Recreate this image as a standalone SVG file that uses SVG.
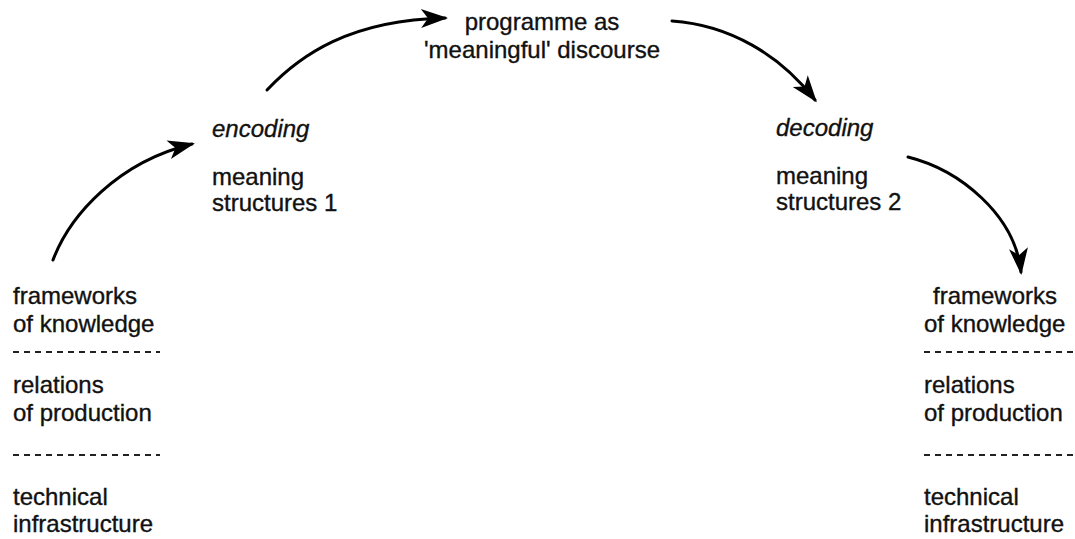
<svg xmlns="http://www.w3.org/2000/svg" width="1075" height="539" viewBox="0 0 1075 539">
<style>
text{font-family:"Liberation Sans",Arial,sans-serif;font-size:24px;fill:#111;stroke:#111;stroke-width:0.35}
.it{font-style:italic}
.arc{fill:none;stroke:#000;stroke-width:3;stroke-linecap:round}
.dash{stroke:#222;stroke-width:2;stroke-dasharray:6 5}
</style>
<defs>
<marker id="ah" markerUnits="userSpaceOnUse" markerWidth="32" markerHeight="24" viewBox="-28 -12 32 24" refX="0" refY="0" orient="auto">
<path d="M3,0 L-24,-9.5 L-17,0 L-24,9.5 Z" fill="#000"/>
</marker>
</defs>
<rect width="1075" height="539" fill="#fff"/>
<g id="connectors">
<path class="arc" d="M53,260 C70,215 118,162 192,144" marker-end="url(#ah)"/>
<path class="arc" d="M267,90 C300,55 350,20 445,18" marker-end="url(#ah)"/>
<path class="arc" d="M672,21 C730,25 780,55 815,100" marker-end="url(#ah)"/>
<path class="arc" d="M908,157 C960,170 1015,215 1021,272" marker-end="url(#ah)"/>
</g>
<g id="programme">
<text x="542" y="30" text-anchor="middle">programme as</text>
<text x="542" y="58" text-anchor="middle">'meaningful' discourse</text>
</g>
<g id="encoding">
<text class="it" x="212" y="137">encoding</text>
<text x="212" y="185">meaning</text>
<text x="212" y="211">structures 1</text>
</g>
<g id="decoding">
<text class="it" x="776" y="136">decoding</text>
<text x="776" y="184">meaning</text>
<text x="776" y="210">structures 2</text>
</g>
<g id="left-stack">
<text x="13" y="304">frameworks</text>
<text x="13" y="332">of knowledge</text>
<line class="dash" x1="13" y1="352" x2="160" y2="352"/>
<text x="13" y="393">relations</text>
<text x="13" y="421">of production</text>
<line class="dash" x1="13" y1="455" x2="160" y2="455"/>
<text x="13" y="505">technical</text>
<text x="13" y="532">infrastructure</text>
</g>
<g id="right-stack">
<text x="933" y="304">frameworks</text>
<text x="924" y="332">of knowledge</text>
<line class="dash" x1="924" y1="352" x2="1075" y2="352"/>
<text x="924" y="393">relations</text>
<text x="924" y="421">of production</text>
<line class="dash" x1="924" y1="455" x2="1075" y2="455"/>
<text x="924" y="505">technical</text>
<text x="924" y="532">infrastructure</text>
</g>
</svg>
